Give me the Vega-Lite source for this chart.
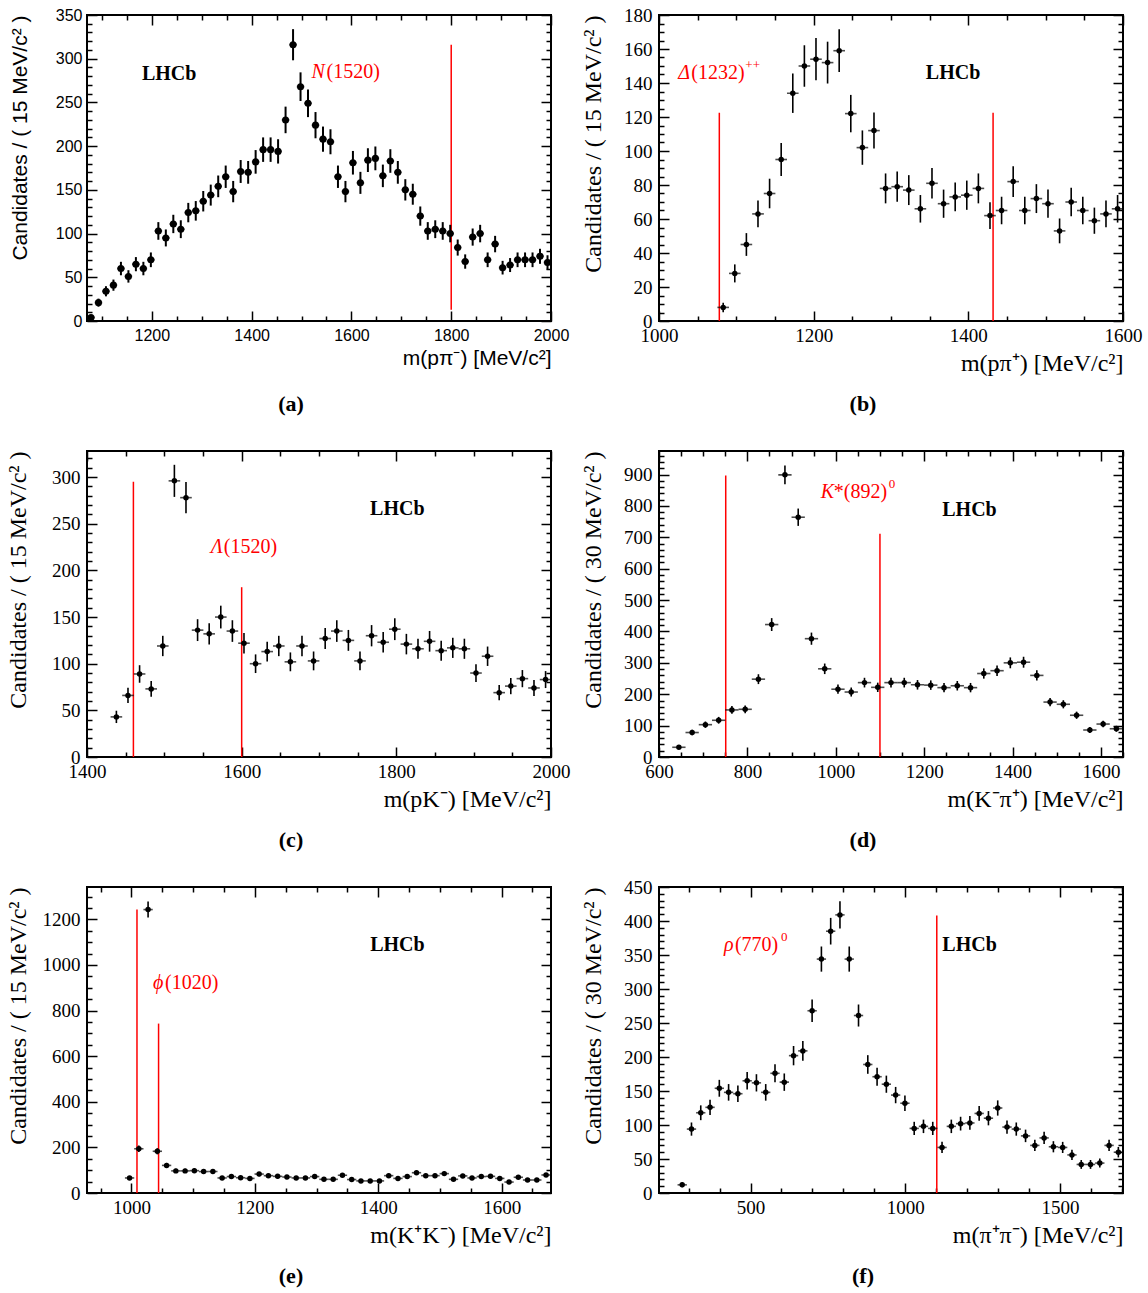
{
  "$schema": "https://vega.github.io/schema/vega-lite/v6.json",
  "padding": {"left": 4, "top": 5, "right": 0, "bottom": 0},
  "bounds": "flush",
  "columns": 2,
  "spacing": {"row": 130, "column": 108},
  "datasets": {
    "pa": [
      {"m":1078,"n":4,"e":2.0},{"m":1093,"n":21,"e":4.6},{"m":1108,"n":34,"e":5.8},{"m":1123,"n":41,"e":6.4},{"m":1138,"n":60,"e":7.7},{"m":1153,"n":51,"e":7.1},{"m":1168,"n":65,"e":8.1},{"m":1183,"n":60,"e":7.7},{"m":1198,"n":70,"e":8.4},{"m":1213,"n":103,"e":10.1},{"m":1228,"n":95,"e":9.7},{"m":1243,"n":111,"e":10.5},{"m":1258,"n":105,"e":10.2},{"m":1273,"n":124,"e":11.1},{"m":1288,"n":126,"e":11.2},{"m":1303,"n":137,"e":11.7},{"m":1318,"n":144,"e":12.0},{"m":1333,"n":154,"e":12.4},{"m":1348,"n":165,"e":12.8},{"m":1363,"n":148,"e":12.2},{"m":1378,"n":171,"e":13.1},{"m":1393,"n":170,"e":13.0},{"m":1408,"n":182,"e":13.5},{"m":1423,"n":196,"e":14.0},{"m":1438,"n":196,"e":14.0},{"m":1453,"n":194,"e":13.9},{"m":1468,"n":230,"e":15.2},{"m":1483,"n":316,"e":17.8},{"m":1498,"n":268,"e":16.4},{"m":1513,"n":249,"e":15.8},{"m":1528,"n":224,"e":15.0},{"m":1543,"n":208,"e":14.4},{"m":1558,"n":205,"e":14.3},{"m":1573,"n":165,"e":12.8},{"m":1588,"n":148,"e":12.2},{"m":1603,"n":181,"e":13.5},{"m":1618,"n":158,"e":12.6},{"m":1633,"n":184,"e":13.6},{"m":1648,"n":186,"e":13.6},{"m":1663,"n":166,"e":12.9},{"m":1678,"n":183,"e":13.5},{"m":1693,"n":170,"e":13.0},{"m":1708,"n":150,"e":12.2},{"m":1723,"n":145,"e":12.0},{"m":1738,"n":120,"e":11.0},{"m":1753,"n":103,"e":10.1},{"m":1768,"n":105,"e":10.2},{"m":1783,"n":103,"e":10.1},{"m":1798,"n":100,"e":10.0},{"m":1813,"n":84,"e":9.2},{"m":1828,"n":68,"e":8.2},{"m":1843,"n":96,"e":9.8},{"m":1858,"n":100,"e":10.0},{"m":1873,"n":70,"e":8.4},{"m":1888,"n":88,"e":9.4},{"m":1903,"n":61,"e":7.8},{"m":1918,"n":64,"e":8.0},{"m":1933,"n":70,"e":8.4},{"m":1948,"n":70,"e":8.4},{"m":1963,"n":70,"e":8.4},{"m":1978,"n":74,"e":8.6},{"m":1993,"n":67,"e":8.2}
    ],
    "pb": [
      {"m":1083,"n":8,"e":2.8},{"m":1098,"n":28,"e":5.3},{"m":1113,"n":45,"e":6.7},{"m":1128,"n":63,"e":7.9},{"m":1143,"n":75,"e":8.7},{"m":1158,"n":95,"e":9.7},{"m":1173,"n":134,"e":11.6},{"m":1188,"n":150,"e":12.2},{"m":1203,"n":154,"e":12.4},{"m":1218,"n":152,"e":12.3},{"m":1233,"n":159,"e":12.6},{"m":1248,"n":122,"e":11.0},{"m":1263,"n":102,"e":10.1},{"m":1278,"n":112,"e":10.6},{"m":1293,"n":78,"e":8.8},{"m":1308,"n":79,"e":8.9},{"m":1323,"n":77,"e":8.8},{"m":1338,"n":66,"e":8.1},{"m":1353,"n":81,"e":9.0},{"m":1368,"n":69,"e":8.3},{"m":1383,"n":73,"e":8.5},{"m":1398,"n":74,"e":8.6},{"m":1413,"n":78,"e":8.8},{"m":1428,"n":62,"e":7.9},{"m":1443,"n":65,"e":8.1},{"m":1458,"n":82,"e":9.1},{"m":1473,"n":65,"e":8.1},{"m":1488,"n":72,"e":8.5},{"m":1503,"n":69,"e":8.3},{"m":1518,"n":53,"e":7.3},{"m":1533,"n":70,"e":8.4},{"m":1548,"n":65,"e":8.1},{"m":1563,"n":59,"e":7.7},{"m":1578,"n":63,"e":7.9},{"m":1593,"n":66,"e":8.1}
    ],
    "pc": [
      {"m":1438,"n":43,"e":6.6},{"m":1453,"n":66,"e":8.1},{"m":1468,"n":89,"e":9.4},{"m":1483,"n":73,"e":8.5},{"m":1498,"n":119,"e":10.9},{"m":1513,"n":296,"e":17.2},{"m":1528,"n":278,"e":16.7},{"m":1543,"n":136,"e":11.7},{"m":1558,"n":132,"e":11.5},{"m":1573,"n":150,"e":12.2},{"m":1588,"n":135,"e":11.6},{"m":1603,"n":122,"e":11.0},{"m":1618,"n":100,"e":10.0},{"m":1633,"n":113,"e":10.6},{"m":1648,"n":119,"e":10.9},{"m":1663,"n":102,"e":10.1},{"m":1678,"n":119,"e":10.9},{"m":1693,"n":103,"e":10.1},{"m":1708,"n":127,"e":11.3},{"m":1723,"n":135,"e":11.6},{"m":1738,"n":125,"e":11.2},{"m":1753,"n":103,"e":10.1},{"m":1768,"n":130,"e":11.4},{"m":1783,"n":123,"e":11.1},{"m":1798,"n":137,"e":11.7},{"m":1813,"n":121,"e":11.0},{"m":1828,"n":116,"e":10.8},{"m":1843,"n":124,"e":11.1},{"m":1858,"n":114,"e":10.7},{"m":1873,"n":117,"e":10.8},{"m":1888,"n":116,"e":10.8},{"m":1903,"n":90,"e":9.5},{"m":1918,"n":108,"e":10.4},{"m":1933,"n":69,"e":8.3},{"m":1948,"n":76,"e":8.7},{"m":1963,"n":84,"e":9.2},{"m":1978,"n":74,"e":8.6},{"m":1993,"n":83,"e":9.1}
    ],
    "pd": [
      {"m":645,"n":31,"e":5.6},{"m":675,"n":78,"e":8.8},{"m":705,"n":103,"e":10.1},{"m":735,"n":117,"e":10.8},{"m":765,"n":150,"e":12.2},{"m":795,"n":152,"e":12.3},{"m":825,"n":248,"e":15.7},{"m":855,"n":422,"e":20.5},{"m":885,"n":899,"e":30.0},{"m":915,"n":764,"e":27.6},{"m":945,"n":377,"e":19.4},{"m":975,"n":281,"e":16.8},{"m":1005,"n":216,"e":14.7},{"m":1035,"n":207,"e":14.4},{"m":1065,"n":237,"e":15.4},{"m":1095,"n":222,"e":14.9},{"m":1125,"n":237,"e":15.4},{"m":1155,"n":237,"e":15.4},{"m":1185,"n":230,"e":15.2},{"m":1215,"n":229,"e":15.1},{"m":1245,"n":221,"e":14.9},{"m":1275,"n":227,"e":15.1},{"m":1305,"n":221,"e":14.9},{"m":1335,"n":266,"e":16.3},{"m":1365,"n":275,"e":16.6},{"m":1395,"n":300,"e":17.3},{"m":1425,"n":302,"e":17.4},{"m":1455,"n":260,"e":16.1},{"m":1485,"n":175,"e":13.2},{"m":1515,"n":168,"e":13.0},{"m":1545,"n":133,"e":11.5},{"m":1575,"n":86,"e":9.3},{"m":1605,"n":105,"e":10.2},{"m":1635,"n":90,"e":9.5}
    ],
    "pe": [
      {"m":997,"n":66,"e":8.1},{"m":1012,"n":194,"e":13.9},{"m":1027,"n":1243,"e":35.3},{"m":1042,"n":183,"e":13.5},{"m":1057,"n":121,"e":11.0},{"m":1072,"n":97,"e":9.8},{"m":1087,"n":97,"e":9.8},{"m":1102,"n":98,"e":9.9},{"m":1117,"n":94,"e":9.7},{"m":1132,"n":94,"e":9.7},{"m":1147,"n":66,"e":8.1},{"m":1162,"n":72,"e":8.5},{"m":1177,"n":67,"e":8.2},{"m":1192,"n":64,"e":8.0},{"m":1207,"n":83,"e":9.1},{"m":1222,"n":76,"e":8.7},{"m":1237,"n":73,"e":8.5},{"m":1252,"n":70,"e":8.4},{"m":1267,"n":66,"e":8.1},{"m":1282,"n":66,"e":8.1},{"m":1297,"n":72,"e":8.5},{"m":1312,"n":60,"e":7.7},{"m":1327,"n":60,"e":7.7},{"m":1342,"n":78,"e":8.8},{"m":1357,"n":59,"e":7.7},{"m":1372,"n":53,"e":7.3},{"m":1387,"n":53,"e":7.3},{"m":1402,"n":53,"e":7.3},{"m":1417,"n":76,"e":8.7},{"m":1432,"n":64,"e":8.0},{"m":1447,"n":72,"e":8.5},{"m":1462,"n":89,"e":9.4},{"m":1477,"n":76,"e":8.7},{"m":1492,"n":76,"e":8.7},{"m":1507,"n":85,"e":9.2},{"m":1522,"n":60,"e":7.7},{"m":1537,"n":75,"e":8.7},{"m":1552,"n":66,"e":8.1},{"m":1567,"n":72,"e":8.5},{"m":1582,"n":73,"e":8.5},{"m":1597,"n":64,"e":8.0},{"m":1612,"n":48,"e":6.9},{"m":1627,"n":69,"e":8.3},{"m":1642,"n":57,"e":7.5},{"m":1657,"n":57,"e":7.5},{"m":1672,"n":79,"e":8.9}
    ],
    "pf": [
      {"m":279,"n":12,"e":3.5},{"m":309,"n":94,"e":9.7},{"m":339,"n":118,"e":10.9},{"m":369,"n":126,"e":11.2},{"m":399,"n":154,"e":12.4},{"m":429,"n":148,"e":12.2},{"m":459,"n":146,"e":12.1},{"m":489,"n":165,"e":12.8},{"m":519,"n":162,"e":12.7},{"m":549,"n":148,"e":12.2},{"m":579,"n":176,"e":13.3},{"m":609,"n":163,"e":12.8},{"m":639,"n":202,"e":14.2},{"m":669,"n":209,"e":14.5},{"m":699,"n":268,"e":16.4},{"m":729,"n":344,"e":18.5},{"m":759,"n":385,"e":19.6},{"m":789,"n":409,"e":20.2},{"m":819,"n":344,"e":18.5},{"m":849,"n":261,"e":16.2},{"m":879,"n":189,"e":13.7},{"m":909,"n":171,"e":13.1},{"m":939,"n":160,"e":12.6},{"m":969,"n":144,"e":12.0},{"m":999,"n":132,"e":11.5},{"m":1029,"n":95,"e":9.7},{"m":1059,"n":98,"e":9.9},{"m":1089,"n":95,"e":9.7},{"m":1119,"n":67,"e":8.2},{"m":1149,"n":98,"e":9.9},{"m":1179,"n":102,"e":10.1},{"m":1209,"n":103,"e":10.1},{"m":1239,"n":117,"e":10.8},{"m":1269,"n":110,"e":10.5},{"m":1299,"n":125,"e":11.2},{"m":1329,"n":97,"e":9.8},{"m":1359,"n":94,"e":9.7},{"m":1389,"n":84,"e":9.2},{"m":1419,"n":70,"e":8.4},{"m":1449,"n":81,"e":9.0},{"m":1479,"n":68,"e":8.2},{"m":1509,"n":67,"e":8.2},{"m":1539,"n":56,"e":7.5},{"m":1569,"n":42,"e":6.5},{"m":1599,"n":42,"e":6.5},{"m":1629,"n":44,"e":6.6},{"m":1659,"n":70,"e":8.4},{"m":1689,"n":60,"e":7.7}
    ]
  },
  "concat": [
    {
      "data": {"name": "pa"},
      "width": 464, "height": 306,
      "title": {"text": "(a)", "offset": 26},
      "resolve": {"axis": {"x": "independent", "y": "independent"}},
      "layer": [
        {"data": {"values": [{}]}, "mark": {"type": "rule", "color": "#ff0000", "strokeWidth": 1.5},
         "encoding": {"x": {"datum": 1800, "axis": null}, "y": {"datum": 13, "axis": null}, "y2": {"datum": 316}}},
        {"mark": {"type": "errorbar", "thickness": 2, "color": "black"},
         "encoding": {"x": {"field": "m", "type": "quantitative", "axis": null}, "y": {"field": "n", "type": "quantitative", "axis": null}, "yError": {"field": "e"}}},
        {"mark": {"type": "tick", "orient": "horizontal", "size": 7.5, "thickness": 2, "color": "black"},
         "encoding": {
           "x": {"field": "m", "type": "quantitative", "axis": {"orient": "top", "values": [1100,1150,1200,1250,1300,1350,1400,1450,1500,1550,1600,1650,1700,1750,1800,1850,1900,1950,2000], "tickSize": {"condition": {"test": "datum.value % 200 === 0", "value": -10}, "value": -5}, "labels": false, "title": null}},
           "y": {"field": "n", "type": "quantitative", "axis": {"orient": "right", "values": [0,10,20,30,40,50,60,70,80,90,100,110,120,130,140,150,160,170,180,190,200,210,220,230,240,250,260,270,280,290,300,310,320,330,340,350], "tickSize": {"condition": {"test": "datum.value % 50 === 0", "value": -10}, "value": -5}, "labels": false, "title": null}}
         }},
        {"mark": {"type": "circle", "size": 50, "color": "black", "opacity": 1},
         "encoding": {
           "x": {"field": "m", "type": "quantitative", "scale": {"domain": [1070, 2000], "nice": false, "zero": false},
                 "axis": {"orient": "bottom", "values": [1100,1150,1200,1250,1300,1350,1400,1450,1500,1550,1600,1650,1700,1750,1800,1850,1900,1950,2000], "format": "d", "tickSize": {"condition": {"test": "datum.value % 200 === 0", "value": -10}, "value": -5}, "labelExpr": "datum.value % 200 === 0 ? datum.label : ''", "labelPadding": 16, "labelFont": "Liberation Sans", "labelFontSize": 16, "title": "m(pπ⁻) [MeV/c²]", "titleFont": "Liberation Sans", "titleFontSize": 21, "titleX": 464, "titleY": 37, "titleAlign": "right", "titleBaseline": "middle", "titleAngle": 0}},
           "y": {"field": "n", "type": "quantitative", "scale": {"domain": [0, 350], "nice": false},
                 "axis": {"orient": "left", "values": [0,10,20,30,40,50,60,70,80,90,100,110,120,130,140,150,160,170,180,190,200,210,220,230,240,250,260,270,280,290,300,310,320,330,340,350], "format": "d", "tickSize": {"condition": {"test": "datum.value % 50 === 0", "value": -10}, "value": -5}, "labelExpr": "datum.value % 50 === 0 ? datum.label : ''", "labelPadding": 15, "labelFont": "Liberation Sans", "labelFontSize": 16, "title": "Candidates / ( 15 MeV/c² )", "titleFont": "Liberation Sans", "titleFontSize": 21, "titleX": -57, "titleY": 0, "titleAlign": "right", "titleBaseline": "bottom", "titleAngle": -90}}
         }},
        {"data": {"values": [{}]}, "mark": {"type": "text", "text": "LHCb", "font": "Liberation Serif", "fontSize": 20, "fontWeight": "bold", "align": "left", "color": "black"},
         "encoding": {"x": {"datum": 1180, "axis": null}, "y": {"datum": 283, "axis": null}}},
        {"data": {"values": [{}]}, "mark": {"type": "text", "text": "N", "font": "Liberation Serif", "fontSize": 20, "fontStyle": "italic", "align": "left", "color": "#ff0000"},
         "encoding": {"x": {"datum": 1520, "axis": null}, "y": {"datum": 285, "axis": null}}},
        {"data": {"values": [{}]}, "mark": {"type": "text", "text": "(1520)", "dx": 15, "font": "Liberation Serif", "fontSize": 20, "align": "left", "color": "#ff0000"},
         "encoding": {"x": {"datum": 1520, "axis": null}, "y": {"datum": 285, "axis": null}}}
      ]
    },
    {
      "data": {"name": "pb"},
      "width": 464, "height": 306,
      "title": {"text": "(b)"},
      "resolve": {"axis": {"x": "independent", "y": "independent"}},
      "layer": [
        {"data": {"values": [{}]}, "mark": {"type": "rule", "color": "#ff0000", "strokeWidth": 1.5},
         "encoding": {"x": {"datum": 1078, "axis": null}, "y": {"datum": 0, "axis": null}, "y2": {"datum": 122.5}}},
        {"data": {"values": [{}]}, "mark": {"type": "rule", "color": "#ff0000", "strokeWidth": 1.5},
         "encoding": {"x": {"datum": 1432, "axis": null}, "y": {"datum": 0, "axis": null}, "y2": {"datum": 122.5}}},
        {"mark": {"type": "errorbar", "thickness": 1.6, "color": "black"},
         "encoding": {"x": {"field": "m", "type": "quantitative", "axis": null}, "y": {"field": "n", "type": "quantitative", "axis": null}, "yError": {"field": "e"}}},
        {"mark": {"type": "tick", "orient": "horizontal", "size": 11.6, "thickness": 1.6, "color": "black"},
         "encoding": {
           "x": {"field": "m", "type": "quantitative", "axis": {"orient": "top", "values": [1000,1050,1100,1150,1200,1250,1300,1350,1400,1450,1500,1550,1600], "tickSize": {"condition": {"test": "datum.value % 200 === 0", "value": -10}, "value": -5}, "labels": false, "title": null}},
           "y": {"field": "n", "type": "quantitative", "axis": {"orient": "right", "values": [0,5,10,15,20,25,30,35,40,45,50,55,60,65,70,75,80,85,90,95,100,105,110,115,120,125,130,135,140,145,150,155,160,165,170,175,180], "tickSize": {"condition": {"test": "datum.value % 20 === 0", "value": -10}, "value": -5}, "labels": false, "title": null}}
         }},
        {"mark": {"type": "circle", "size": 30, "color": "black", "opacity": 1},
         "encoding": {
           "x": {"field": "m", "type": "quantitative", "scale": {"domain": [1000, 1600], "nice": false, "zero": false},
                 "axis": {"orient": "bottom", "values": [1000,1050,1100,1150,1200,1250,1300,1350,1400,1450,1500,1550,1600], "format": "d", "tickSize": {"condition": {"test": "datum.value % 200 === 0", "value": -10}, "value": -5}, "labelExpr": "datum.value % 200 === 0 ? datum.label : ''", "labelPadding": 15, "title": "m(pπ⁺) [MeV/c²]", "titleX": 464, "titleY": 42, "titleAlign": "right", "titleBaseline": "middle", "titleAngle": 0}},
           "y": {"field": "n", "type": "quantitative", "scale": {"domain": [0, 180], "nice": false},
                 "axis": {"orient": "left", "values": [0,5,10,15,20,25,30,35,40,45,50,55,60,65,70,75,80,85,90,95,100,105,110,115,120,125,130,135,140,145,150,155,160,165,170,175,180], "format": "d", "tickSize": {"condition": {"test": "datum.value % 20 === 0", "value": -10}, "value": -5}, "labelExpr": "datum.value % 20 === 0 ? datum.label : ''", "labelPadding": 17, "title": "Candidates / ( 15 MeV/c² )", "titleX": -54, "titleY": 0, "titleAlign": "right", "titleBaseline": "bottom", "titleAngle": -90}}
         }},
        {"data": {"values": [{}]}, "mark": {"type": "text", "text": "LHCb", "font": "Liberation Serif", "fontSize": 20, "fontWeight": "bold", "align": "left", "color": "black"},
         "encoding": {"x": {"datum": 1345, "axis": null}, "y": {"datum": 146, "axis": null}}},
        {"data": {"values": [{}]}, "mark": {"type": "text", "text": "Δ", "font": "Liberation Serif", "fontSize": 20, "fontStyle": "italic", "align": "left", "color": "#ff0000"},
         "encoding": {"x": {"datum": 1025, "axis": null}, "y": {"datum": 146, "axis": null}}},
        {"data": {"values": [{}]}, "mark": {"type": "text", "text": "(1232)", "dx": 13, "font": "Liberation Serif", "fontSize": 20, "align": "left", "color": "#ff0000"},
         "encoding": {"x": {"datum": 1025, "axis": null}, "y": {"datum": 146, "axis": null}}},
        {"data": {"values": [{}]}, "mark": {"type": "text", "text": "++", "dx": 67, "dy": -8, "font": "Liberation Serif", "fontSize": 13, "align": "left", "color": "#ff0000"},
         "encoding": {"x": {"datum": 1025, "axis": null}, "y": {"datum": 146, "axis": null}}}
      ]
    },
    {
      "data": {"name": "pc"},
      "width": 464, "height": 306,
      "title": {"text": "(c)"},
      "resolve": {"axis": {"x": "independent", "y": "independent"}},
      "layer": [
        {"data": {"values": [{}]}, "mark": {"type": "rule", "color": "#ff0000", "strokeWidth": 1.5},
         "encoding": {"x": {"datum": 1460, "axis": null}, "y": {"datum": 0, "axis": null}, "y2": {"datum": 295}}},
        {"data": {"values": [{}]}, "mark": {"type": "rule", "color": "#ff0000", "strokeWidth": 1.5},
         "encoding": {"x": {"datum": 1600, "axis": null}, "y": {"datum": 0, "axis": null}, "y2": {"datum": 182}}},
        {"mark": {"type": "errorbar", "thickness": 1.6, "color": "black"},
         "encoding": {"x": {"field": "m", "type": "quantitative", "axis": null}, "y": {"field": "n", "type": "quantitative", "axis": null}, "yError": {"field": "e"}}},
        {"mark": {"type": "tick", "orient": "horizontal", "size": 11.6, "thickness": 1.6, "color": "black"},
         "encoding": {
           "x": {"field": "m", "type": "quantitative", "axis": {"orient": "top", "values": [1400,1450,1500,1550,1600,1650,1700,1750,1800,1850,1900,1950,2000], "tickSize": {"condition": {"test": "datum.value % 200 === 0", "value": -10}, "value": -5}, "labels": false, "title": null}},
           "y": {"field": "n", "type": "quantitative", "axis": {"orient": "right", "values": [0,10,20,30,40,50,60,70,80,90,100,110,120,130,140,150,160,170,180,190,200,210,220,230,240,250,260,270,280,290,300,310,320], "tickSize": {"condition": {"test": "datum.value % 50 === 0", "value": -10}, "value": -5}, "labels": false, "title": null}}
         }},
        {"mark": {"type": "circle", "size": 30, "color": "black", "opacity": 1},
         "encoding": {
           "x": {"field": "m", "type": "quantitative", "scale": {"domain": [1400, 2000], "nice": false, "zero": false},
                 "axis": {"orient": "bottom", "values": [1400,1450,1500,1550,1600,1650,1700,1750,1800,1850,1900,1950,2000], "format": "d", "tickSize": {"condition": {"test": "datum.value % 200 === 0", "value": -10}, "value": -5}, "labelExpr": "datum.value % 200 === 0 ? datum.label : ''", "labelPadding": 15, "title": "m(pK⁻) [MeV/c²]", "titleX": 464, "titleY": 42, "titleAlign": "right", "titleBaseline": "middle", "titleAngle": 0}},
           "y": {"field": "n", "type": "quantitative", "scale": {"domain": [0, 328], "nice": false},
                 "axis": {"orient": "left", "values": [0,10,20,30,40,50,60,70,80,90,100,110,120,130,140,150,160,170,180,190,200,210,220,230,240,250,260,270,280,290,300,310,320], "format": "d", "tickSize": {"condition": {"test": "datum.value % 50 === 0", "value": -10}, "value": -5}, "labelExpr": "datum.value % 50 === 0 ? datum.label : ''", "labelPadding": 17, "title": "Candidates / ( 15 MeV/c² )", "titleX": -57, "titleY": 0, "titleAlign": "right", "titleBaseline": "bottom", "titleAngle": -90}}
         }},
        {"data": {"values": [{}]}, "mark": {"type": "text", "text": "LHCb", "font": "Liberation Serif", "fontSize": 20, "fontWeight": "bold", "align": "left", "color": "black"},
         "encoding": {"x": {"datum": 1766, "axis": null}, "y": {"datum": 266, "axis": null}}},
        {"data": {"values": [{}]}, "mark": {"type": "text", "text": "Λ", "font": "Liberation Serif", "fontSize": 20, "fontStyle": "italic", "align": "left", "color": "#ff0000"},
         "encoding": {"x": {"datum": 1560, "axis": null}, "y": {"datum": 225, "axis": null}}},
        {"data": {"values": [{}]}, "mark": {"type": "text", "text": "(1520)", "dx": 13, "font": "Liberation Serif", "fontSize": 20, "align": "left", "color": "#ff0000"},
         "encoding": {"x": {"datum": 1560, "axis": null}, "y": {"datum": 225, "axis": null}}}
      ]
    },
    {
      "data": {"name": "pd"},
      "width": 464, "height": 306,
      "title": {"text": "(d)"},
      "resolve": {"axis": {"x": "independent", "y": "independent"}},
      "layer": [
        {"data": {"values": [{}]}, "mark": {"type": "rule", "color": "#ff0000", "strokeWidth": 1.5},
         "encoding": {"x": {"datum": 751, "axis": null}, "y": {"datum": 0, "axis": null}, "y2": {"datum": 897}}},
        {"data": {"values": [{}]}, "mark": {"type": "rule", "color": "#ff0000", "strokeWidth": 1.5},
         "encoding": {"x": {"datum": 1100, "axis": null}, "y": {"datum": 0, "axis": null}, "y2": {"datum": 711}}},
        {"mark": {"type": "errorbar", "thickness": 1.6, "color": "black"},
         "encoding": {"x": {"field": "m", "type": "quantitative", "axis": null}, "y": {"field": "n", "type": "quantitative", "axis": null}, "yError": {"field": "e"}}},
        {"mark": {"type": "tick", "orient": "horizontal", "size": 13.3, "thickness": 1.6, "color": "black"},
         "encoding": {
           "x": {"field": "m", "type": "quantitative", "axis": {"orient": "top", "values": [600,650,700,750,800,850,900,950,1000,1050,1100,1150,1200,1250,1300,1350,1400,1450,1500,1550,1600,1650], "tickSize": {"condition": {"test": "datum.value % 200 === 0", "value": -10}, "value": -5}, "labels": false, "title": null}},
           "y": {"field": "n", "type": "quantitative", "axis": {"orient": "right", "values": [0,20,40,60,80,100,120,140,160,180,200,220,240,260,280,300,320,340,360,380,400,420,440,460,480,500,520,540,560,580,600,620,640,660,680,700,720,740,760,780,800,820,840,860,880,900,920,940,960], "tickSize": {"condition": {"test": "datum.value % 100 === 0", "value": -10}, "value": -5}, "labels": false, "title": null}}
         }},
        {"mark": {"type": "circle", "size": 30, "color": "black", "opacity": 1},
         "encoding": {
           "x": {"field": "m", "type": "quantitative", "scale": {"domain": [600, 1650], "nice": false, "zero": false},
                 "axis": {"orient": "bottom", "values": [600,650,700,750,800,850,900,950,1000,1050,1100,1150,1200,1250,1300,1350,1400,1450,1500,1550,1600,1650], "format": "d", "tickSize": {"condition": {"test": "datum.value % 200 === 0", "value": -10}, "value": -5}, "labelExpr": "datum.value % 200 === 0 ? datum.label : ''", "labelPadding": 15, "title": "m(K⁻π⁺) [MeV/c²]", "titleX": 464, "titleY": 42, "titleAlign": "right", "titleBaseline": "middle", "titleAngle": 0}},
           "y": {"field": "n", "type": "quantitative", "scale": {"domain": [0, 975], "nice": false},
                 "axis": {"orient": "left", "values": [0,20,40,60,80,100,120,140,160,180,200,220,240,260,280,300,320,340,360,380,400,420,440,460,480,500,520,540,560,580,600,620,640,660,680,700,720,740,760,780,800,820,840,860,880,900,920,940,960], "format": "d", "tickSize": {"condition": {"test": "datum.value % 100 === 0", "value": -10}, "value": -5}, "labelExpr": "datum.value % 100 === 0 ? datum.label : ''", "labelPadding": 17, "title": "Candidates / ( 30 MeV/c² )", "titleX": -54, "titleY": 0, "titleAlign": "right", "titleBaseline": "bottom", "titleAngle": -90}}
         }},
        {"data": {"values": [{}]}, "mark": {"type": "text", "text": "LHCb", "font": "Liberation Serif", "fontSize": 20, "fontWeight": "bold", "align": "left", "color": "black"},
         "encoding": {"x": {"datum": 1241, "axis": null}, "y": {"datum": 788, "axis": null}}},
        {"data": {"values": [{}]}, "mark": {"type": "text", "text": "K", "font": "Liberation Serif", "fontSize": 20, "fontStyle": "italic", "align": "left", "color": "#ff0000"},
         "encoding": {"x": {"datum": 966, "axis": null}, "y": {"datum": 844, "axis": null}}},
        {"data": {"values": [{}]}, "mark": {"type": "text", "text": "*(892)", "dx": 13, "font": "Liberation Serif", "fontSize": 20, "align": "left", "color": "#ff0000"},
         "encoding": {"x": {"datum": 966, "axis": null}, "y": {"datum": 844, "axis": null}}},
        {"data": {"values": [{}]}, "mark": {"type": "text", "text": "0", "dx": 68, "dy": -8, "font": "Liberation Serif", "fontSize": 13, "align": "left", "color": "#ff0000"},
         "encoding": {"x": {"datum": 966, "axis": null}, "y": {"datum": 844, "axis": null}}}
      ]
    },
    {
      "data": {"name": "pe"},
      "width": 464, "height": 306,
      "title": {"text": "(e)"},
      "resolve": {"axis": {"x": "independent", "y": "independent"}},
      "layer": [
        {"data": {"values": [{}]}, "mark": {"type": "rule", "color": "#ff0000", "strokeWidth": 1.5},
         "encoding": {"x": {"datum": 1009, "axis": null}, "y": {"datum": 0, "axis": null}, "y2": {"datum": 1243}}},
        {"data": {"values": [{}]}, "mark": {"type": "rule", "color": "#ff0000", "strokeWidth": 1.5},
         "encoding": {"x": {"datum": 1044, "axis": null}, "y": {"datum": 0, "axis": null}, "y2": {"datum": 743}}},
        {"mark": {"type": "errorbar", "thickness": 1.6, "color": "black"},
         "encoding": {"x": {"field": "m", "type": "quantitative", "axis": null}, "y": {"field": "n", "type": "quantitative", "axis": null}, "yError": {"field": "e"}}},
        {"mark": {"type": "tick", "orient": "horizontal", "size": 9.3, "thickness": 1.6, "color": "black"},
         "encoding": {
           "x": {"field": "m", "type": "quantitative", "axis": {"orient": "top", "values": [950,1000,1050,1100,1150,1200,1250,1300,1350,1400,1450,1500,1550,1600,1650], "tickSize": {"condition": {"test": "datum.value % 200 === 0", "value": -10}, "value": -5}, "labels": false, "title": null}},
           "y": {"field": "n", "type": "quantitative", "axis": {"orient": "right", "values": [0,50,100,150,200,250,300,350,400,450,500,550,600,650,700,750,800,850,900,950,1000,1050,1100,1150,1200,1250,1300], "tickSize": {"condition": {"test": "datum.value % 200 === 0", "value": -10}, "value": -5}, "labels": false, "title": null}}
         }},
        {"mark": {"type": "circle", "size": 30, "color": "black", "opacity": 1},
         "encoding": {
           "x": {"field": "m", "type": "quantitative", "scale": {"domain": [928, 1680], "nice": false, "zero": false},
                 "axis": {"orient": "bottom", "values": [950,1000,1050,1100,1150,1200,1250,1300,1350,1400,1450,1500,1550,1600,1650], "format": "d", "tickSize": {"condition": {"test": "datum.value % 200 === 0", "value": -10}, "value": -5}, "labelExpr": "datum.value % 200 === 0 ? datum.label : ''", "labelPadding": 15, "title": "m(K⁺K⁻) [MeV/c²]", "titleX": 464, "titleY": 42, "titleAlign": "right", "titleBaseline": "middle", "titleAngle": 0}},
           "y": {"field": "n", "type": "quantitative", "scale": {"domain": [0, 1342], "nice": false},
                 "axis": {"orient": "left", "values": [0,50,100,150,200,250,300,350,400,450,500,550,600,650,700,750,800,850,900,950,1000,1050,1100,1150,1200,1250,1300], "format": "d", "tickSize": {"condition": {"test": "datum.value % 200 === 0", "value": -10}, "value": -5}, "labelExpr": "datum.value % 200 === 0 ? datum.label : ''", "labelPadding": 17, "title": "Candidates / ( 15 MeV/c² )", "titleX": -57, "titleY": 0, "titleAlign": "right", "titleBaseline": "bottom", "titleAngle": -90}}
         }},
        {"data": {"values": [{}]}, "mark": {"type": "text", "text": "LHCb", "font": "Liberation Serif", "fontSize": 20, "fontWeight": "bold", "align": "left", "color": "black"},
         "encoding": {"x": {"datum": 1387, "axis": null}, "y": {"datum": 1086, "axis": null}}},
        {"data": {"values": [{}]}, "mark": {"type": "text", "text": "ϕ", "font": "Liberation Serif", "fontSize": 20, "fontStyle": "italic", "align": "left", "color": "#ff0000"},
         "encoding": {"x": {"datum": 1035, "axis": null}, "y": {"datum": 921, "axis": null}}},
        {"data": {"values": [{}]}, "mark": {"type": "text", "text": "(1020)", "dx": 12, "font": "Liberation Serif", "fontSize": 20, "align": "left", "color": "#ff0000"},
         "encoding": {"x": {"datum": 1035, "axis": null}, "y": {"datum": 921, "axis": null}}}
      ]
    },
    {
      "data": {"name": "pf"},
      "width": 464, "height": 306,
      "title": {"text": "(f)"},
      "resolve": {"axis": {"x": "independent", "y": "independent"}},
      "layer": [
        {"data": {"values": [{}]}, "mark": {"type": "rule", "color": "#ff0000", "strokeWidth": 1.5},
         "encoding": {"x": {"datum": 1102, "axis": null}, "y": {"datum": 0, "axis": null}, "y2": {"datum": 408}}},
        {"mark": {"type": "errorbar", "thickness": 1.6, "color": "black"},
         "encoding": {"x": {"field": "m", "type": "quantitative", "axis": null}, "y": {"field": "n", "type": "quantitative", "axis": null}, "yError": {"field": "e"}}},
        {"mark": {"type": "tick", "orient": "horizontal", "size": 9.3, "thickness": 1.6, "color": "black"},
         "encoding": {
           "x": {"field": "m", "type": "quantitative", "axis": {"orient": "top", "values": [300,400,500,600,700,800,900,1000,1100,1200,1300,1400,1500,1600,1700], "tickSize": {"condition": {"test": "datum.value % 500 === 0", "value": -10}, "value": -5}, "labels": false, "title": null}},
           "y": {"field": "n", "type": "quantitative", "axis": {"orient": "right", "values": [0,10,20,30,40,50,60,70,80,90,100,110,120,130,140,150,160,170,180,190,200,210,220,230,240,250,260,270,280,290,300,310,320,330,340,350,360,370,380,390,400,410,420,430,440,450], "tickSize": {"condition": {"test": "datum.value % 50 === 0", "value": -10}, "value": -5}, "labels": false, "title": null}}
         }},
        {"mark": {"type": "circle", "size": 30, "color": "black", "opacity": 1},
         "encoding": {
           "x": {"field": "m", "type": "quantitative", "scale": {"domain": [204, 1704], "nice": false, "zero": false},
                 "axis": {"orient": "bottom", "values": [300,400,500,600,700,800,900,1000,1100,1200,1300,1400,1500,1600,1700], "format": "d", "tickSize": {"condition": {"test": "datum.value % 500 === 0", "value": -10}, "value": -5}, "labelExpr": "datum.value % 500 === 0 ? datum.label : ''", "labelPadding": 15, "title": "m(π⁺π⁻) [MeV/c²]", "titleX": 464, "titleY": 42, "titleAlign": "right", "titleBaseline": "middle", "titleAngle": 0}},
           "y": {"field": "n", "type": "quantitative", "scale": {"domain": [0, 450], "nice": false},
                 "axis": {"orient": "left", "values": [0,10,20,30,40,50,60,70,80,90,100,110,120,130,140,150,160,170,180,190,200,210,220,230,240,250,260,270,280,290,300,310,320,330,340,350,360,370,380,390,400,410,420,430,440,450], "format": "d", "tickSize": {"condition": {"test": "datum.value % 50 === 0", "value": -10}, "value": -5}, "labelExpr": "datum.value % 50 === 0 ? datum.label : ''", "labelPadding": 17, "title": "Candidates / ( 30 MeV/c² )", "titleX": -54, "titleY": 0, "titleAlign": "right", "titleBaseline": "bottom", "titleAngle": -90}}
         }},
        {"data": {"values": [{}]}, "mark": {"type": "text", "text": "LHCb", "font": "Liberation Serif", "fontSize": 20, "fontWeight": "bold", "align": "left", "color": "black"},
         "encoding": {"x": {"datum": 1120, "axis": null}, "y": {"datum": 364, "axis": null}}},
        {"data": {"values": [{}]}, "mark": {"type": "text", "text": "ρ", "font": "Liberation Serif", "fontSize": 20, "fontStyle": "italic", "align": "left", "color": "#ff0000"},
         "encoding": {"x": {"datum": 414, "axis": null}, "y": {"datum": 364, "axis": null}}},
        {"data": {"values": [{}]}, "mark": {"type": "text", "text": "(770)", "dx": 11, "font": "Liberation Serif", "fontSize": 20, "align": "left", "color": "#ff0000"},
         "encoding": {"x": {"datum": 414, "axis": null}, "y": {"datum": 364, "axis": null}}},
        {"data": {"values": [{}]}, "mark": {"type": "text", "text": "0", "dx": 57, "dy": -8, "font": "Liberation Serif", "fontSize": 13, "align": "left", "color": "#ff0000"},
         "encoding": {"x": {"datum": 414, "axis": null}, "y": {"datum": 364, "axis": null}}}
      ]
    }
  ],
  "config": {
    "view": {"stroke": "black", "strokeWidth": 2},
    "axis": {"grid": false, "domain": false, "tickColor": "black", "tickWidth": 1.5, "labelColor": "black", "titleColor": "black", "labelOverlap": false, "labelFlush": false, "labelFont": "Liberation Serif", "labelFontSize": 19, "titleFont": "Liberation Serif", "titleFontSize": 24, "titleFontWeight": "normal"},
    "title": {"orient": "bottom", "offset": 19, "dx": -28, "font": "Liberation Serif", "fontSize": 22, "fontWeight": "bold", "color": "black", "anchor": "middle"}
  }
}
